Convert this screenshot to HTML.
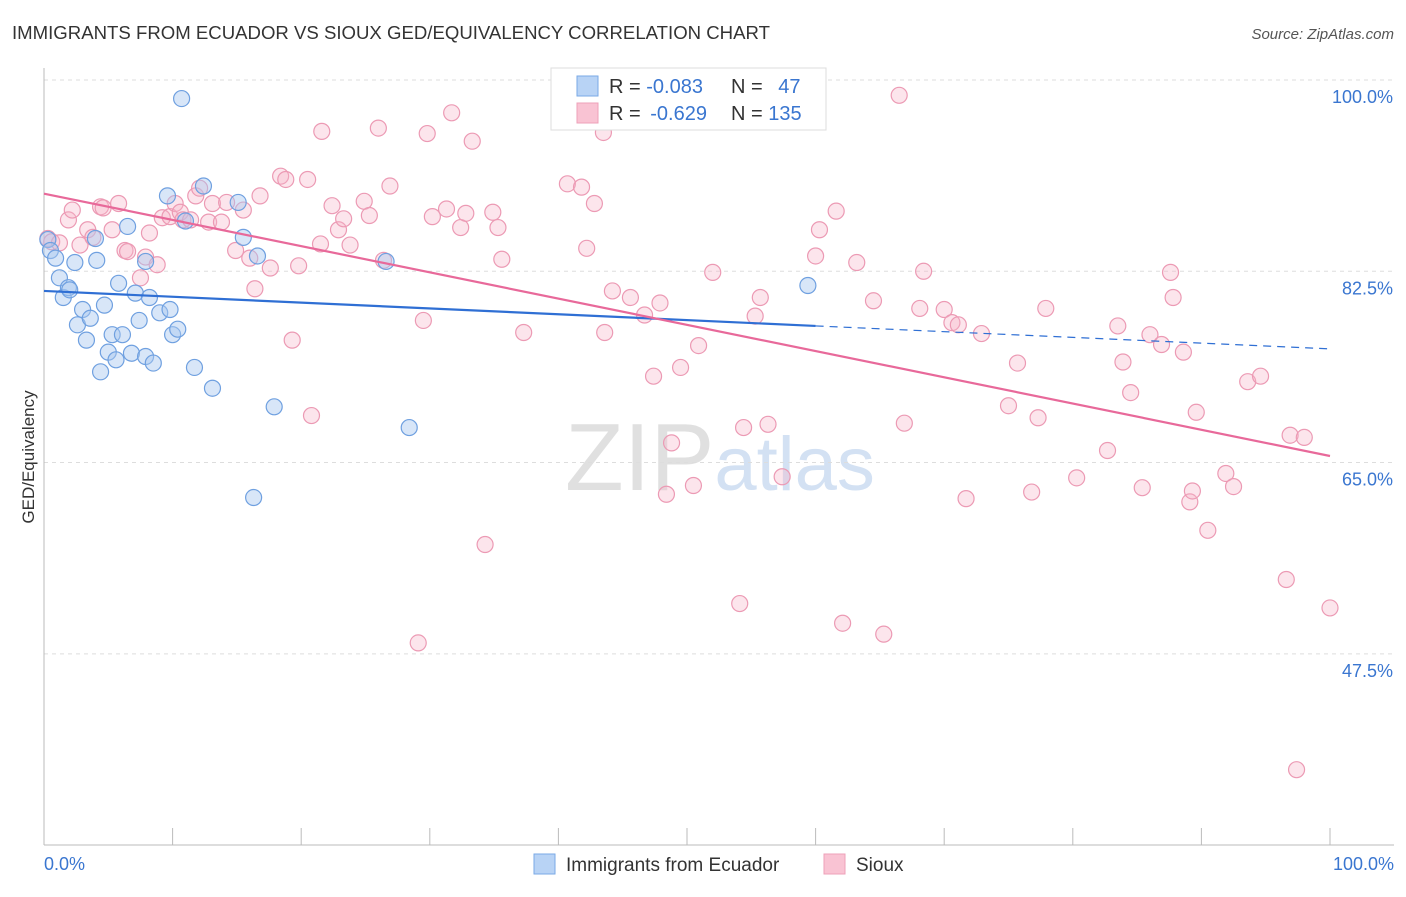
<!DOCTYPE html>
<html><head><meta charset="utf-8"><style>
body{margin:0;background:#fff;font-family:"Liberation Sans",sans-serif;}
svg text{font-family:"Liberation Sans",sans-serif;}
</style></head><body>
<svg id="chart" width="1406" height="892">
<text x="12" y="39" font-size="18.6" fill="#333">IMMIGRANTS FROM ECUADOR VS SIOUX GED/EQUIVALENCY CORRELATION CHART</text>
<text x="1394" y="39" font-size="15" fill="#555" font-style="italic" text-anchor="end">Source: ZipAtlas.com</text>
<text x="720" y="490" font-size="96" fill="#ddd" text-anchor="middle" font-family="Liberation Serif"><tspan fill="#e0e0e0">ZIP</tspan><tspan fill="#d3e1f3" font-family="Liberation Sans" font-size="76">atlas</tspan></text>
<text transform="translate(34,457) rotate(-90)" font-size="17" fill="#333" text-anchor="middle">GED/Equivalency</text>
<g id="grid"></g><g id="ticks"></g><g id="pts"></g><g id="trend"></g>
<g>
<rect x="551" y="68" width="275" height="62" fill="#fff" stroke="#ddd"/>
<rect x="577" y="76" width="21" height="20" fill="#b8d3f5" stroke="#7aaae6"/>
<rect x="577" y="103" width="21" height="20" fill="#f9c3d3" stroke="#eea0b8"/>
<text x="609" y="93" font-size="20" fill="#333">R = <tspan fill="#3a76d0">-0.083</tspan></text>
<text x="731" y="93" font-size="20" fill="#333">N = <tspan fill="#3a76d0" dx="10">47</tspan></text>
<text x="609" y="120" font-size="20" fill="#333">R = <tspan fill="#3a76d0" dx="4">-0.629</tspan></text>
<text x="731" y="120" font-size="20" fill="#333">N = <tspan fill="#3a76d0">135</tspan></text>
</g>
<g>
<rect x="534" y="854" width="21" height="20" fill="#b8d3f5" stroke="#7aaae6"/>
<text x="566" y="871" font-size="19" fill="#333">Immigrants from Ecuador</text>
<rect x="824" y="854" width="21" height="20" fill="#f9c3d3" stroke="#eea0b8"/>
<text x="856" y="871" font-size="19" fill="#333">Sioux</text>
</g>
<text x="44" y="870" font-size="18" fill="#3a76d0">0.0%</text>
<text x="1394" y="870" font-size="18" fill="#3a76d0" text-anchor="end">100.0%</text>
</svg>
<script>
const yTicks=[100,82.5,65,47.5];
const blueX=[0.3,0.5,0.9,1.2,1.5,1.9,2.0,2.4,2.6,3.0,3.3,3.6,4.0,4.1,4.4,4.7,5.0,5.3,5.6,5.8,6.1,6.5,6.8,7.1,7.4,7.9,7.9,8.2,8.5,9.0,9.6,9.8,10.0,10.4,10.7,11.0,11.7,12.4,13.1,15.1,15.5,16.6,16.3,17.9,26.6,28.4,59.4];
const blueY=[85.4,84.4,83.7,81.9,80.1,81.0,80.8,83.3,77.6,79.0,76.2,78.2,85.5,83.5,73.3,79.4,75.1,76.7,74.4,81.4,76.7,86.6,75.0,80.5,78.0,74.7,83.4,80.1,74.1,78.7,89.4,79.0,76.7,77.2,98.3,87.1,73.7,90.3,71.8,88.8,85.6,83.9,61.8,70.1,83.4,68.2,81.2];
const pinkX=[0.3,0.6,1.2,1.9,2.2,2.8,3.4,3.8,4.4,4.6,5.3,5.8,6.3,6.5,7.5,7.9,8.2,8.8,9.2,9.8,10.2,10.6,10.8,11.4,11.8,12.1,12.8,13.1,13.8,14.2,14.9,15.5,16.0,16.4,16.8,17.6,18.4,18.8,19.3,19.8,20.5,20.8,21.5,21.6,22.4,22.9,23.3,23.8,24.9,25.3,26.0,26.4,26.9,29.5,29.8,30.2,31.3,31.7,32.4,32.8,33.3,34.3,34.9,35.3,35.6,37.3,40.7,41.8,42.2,42.8,43.5,43.6,44.2,45.6,46.7,47.4,47.9,48.4,48.8,49.5,50.5,50.9,52.0,54.1,54.4,55.7,55.3,56.3,57.4,60.0,60.3,61.6,62.1,63.2,64.5,65.3,66.5,66.9,68.4,68.1,70.0,70.6,71.1,71.7,72.9,75.0,75.7,76.8,77.3,77.9,80.3,82.7,83.5,83.9,84.5,85.4,86.0,86.9,87.6,87.8,88.6,89.1,89.3,89.6,90.5,91.9,92.5,93.6,94.6,96.6,96.9,97.4,98.0,100.0,29.1];
const pinkY=[85.5,85.2,85.1,87.2,88.1,84.9,86.3,85.6,88.4,88.3,86.3,88.7,84.4,84.3,81.9,83.8,86.0,83.1,87.4,87.5,88.7,87.9,87.2,87.2,89.4,90.1,87.0,88.7,87.0,88.8,84.4,88.1,83.7,80.9,89.4,82.8,91.2,90.9,76.2,83.0,90.9,69.3,85.0,95.3,88.5,86.3,87.3,84.9,88.9,87.6,95.6,83.5,90.3,78.0,95.1,87.5,88.2,97.0,86.5,87.8,94.4,57.5,87.9,86.5,83.6,76.9,90.5,90.2,84.6,88.7,95.2,76.9,80.7,80.1,78.5,72.9,79.6,62.1,66.8,73.7,62.9,75.7,82.4,52.1,68.2,80.1,78.4,68.5,63.7,83.9,86.3,88.0,50.3,83.3,79.8,49.3,98.6,68.6,82.5,79.1,79.0,77.8,77.6,61.7,76.8,70.2,74.1,62.3,69.1,79.1,63.6,66.1,77.5,74.2,71.4,62.7,76.7,75.8,82.4,80.1,75.1,61.4,62.4,69.6,58.8,64.0,62.8,72.4,72.9,54.3,67.5,36.9,67.3,51.7,48.5];
const blueTrend=[80.7,77.5,75.4]; // at x=0,60,100
const pinkTrend=[89.6,65.6]; // at x=0,100
const NS='http://www.w3.org/2000/svg';
const X=v=>44+v*12.86, Y=v=>80+(100-v)*10.93;
function mk(tag,attrs,parent){const e=document.createElementNS(NS,tag);for(const k in attrs)e.setAttribute(k,attrs[k]);document.getElementById(parent).appendChild(e);return e;}
yTicks.forEach(t=>{
 const l=mk('line',{x1:44,x2:1394,y1:Y(t),y2:Y(t),stroke:'#ddd','stroke-dasharray':'4,4'},'grid');
 
 
 const tx=mk('text',{x:1393,y:Y(t)+23,'font-size':18,fill:'#3a76d0','text-anchor':'end'},'grid');
 tx.textContent=t.toFixed(1)+'%';
 
 
});
let a=mk('line',{x1:44,x2:44,y1:68,y2:845,stroke:'#bbb'},'ticks');


a=mk('line',{x1:44,x2:1394,y1:845,y2:845,stroke:'#bbb'},'ticks');


for(let i=0;i<=10;i++){const t=mk('line',{x1:X(i*10),x2:X(i*10),y1:828,y2:845,stroke:'#bbb'},'ticks');
 
 }
pinkX.forEach((x,i)=>{const c=mk('circle',{cx:X(x),cy:Y(pinkY[i]),r:8,fill:'rgba(247,180,200,0.35)',stroke:'#ec9ab4','stroke-width':1.2},'pts');
 
 });
blueX.forEach((x,i)=>{const c=mk('circle',{cx:X(x),cy:Y(blueY[i]),r:8,fill:'rgba(169,200,240,0.45)',stroke:'#6fa0e0','stroke-width':1.2},'pts');
 
 });
let t=mk('line',{x1:X(0),y1:Y(blueTrend[0]),x2:X(60),y2:Y(blueTrend[1]),stroke:'#2f6fd4','stroke-width':2.2},'trend');


t=mk('line',{x1:X(60),y1:Y(blueTrend[1]),x2:X(100),y2:Y(blueTrend[2]),stroke:'#2f6fd4','stroke-width':1.2,'stroke-dasharray':'8,6'},'trend');


t=mk('line',{x1:X(0),y1:Y(pinkTrend[0]),x2:X(100),y2:Y(pinkTrend[1]),stroke:'#e8699a','stroke-width':2.2},'trend');


</script>
</body></html>
